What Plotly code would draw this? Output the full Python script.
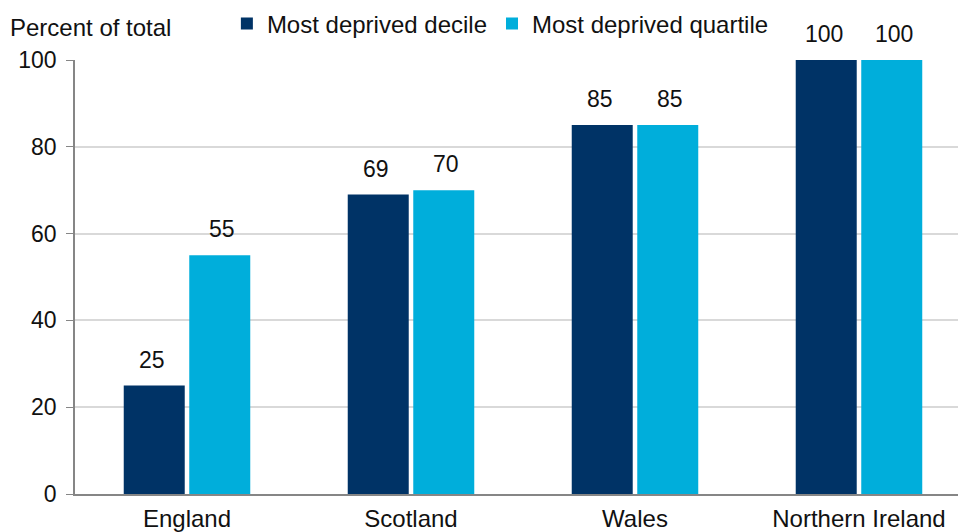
import plotly.graph_objects as go

# Share of areas falling in the most deprived group, by nation
nations = ["England", "Scotland", "Wales", "Northern Ireland"]
decile_pct = [25, 69, 85, 100]
quartile_pct = [55, 70, 85, 100]
series_names = ["Most deprived decile", "Most deprived quartile"]
y_ticks = [0, 20, 40, 60, 80, 100]

DARK = "#003366"
LIGHT = "#00AEDB"
FONT = "Liberation Sans, Arial, sans-serif"
FS_TEXT = 24
FS_NUM = 23

fig = go.Figure()
fig.add_trace(go.Bar(x=nations, y=decile_pct, name=series_names[0],
                     marker=dict(color=DARK, line=dict(width=0))))
fig.add_trace(go.Bar(x=nations, y=quartile_pct, name=series_names[1],
                     marker=dict(color=LIGHT, line=dict(width=0))))

# value labels above each bar
for vals, shift in ((decile_pct, -35), (quartile_pct, 35)):
    for cat, v in zip(nations, vals):
        fig.add_annotation(x=cat, y=v, text=str(v), showarrow=False,
                           xshift=shift, yshift=26, yanchor="middle",
                           font=dict(family=FONT, size=FS_NUM, color="#111111"))

# axis caption
fig.add_annotation(xref="paper", yref="paper", x=0, y=1, xanchor="left",
                   yanchor="middle", xshift=-67, yshift=33,
                   text="Percent of total", showarrow=False,
                   font=dict(family=FONT, size=FS_TEXT, color="#111111"))

fig.update_layout(
    width=958, height=532,
    margin=dict(l=75, r=0, t=60, b=38, autoexpand=False),
    paper_bgcolor="white", plot_bgcolor="white",
    barmode="group", bargap=0.415, bargroupgap=0.069,
    font=dict(family=FONT, size=FS_TEXT, color="#111111"),
    legend=dict(orientation="h", x=0.172, xanchor="left", y=1.083,
                yanchor="middle", font=dict(family=FONT, size=FS_TEXT),
                bgcolor="rgba(0,0,0,0)", itemwidth=30),
    xaxis=dict(range=[-0.5, 3.442], showline=True, linecolor="#868686",
               linewidth=1.5, ticks="", showgrid=False, fixedrange=True,
               ticklabelstandoff=2, automargin=False,
               tickfont=dict(family=FONT, size=FS_TEXT, color="#111111")),
    yaxis=dict(range=[0, 100], tickvals=y_ticks, showline=True,
               linecolor="#868686", linewidth=1.5, ticks="outside",
               ticklen=7, tickcolor="#868686", gridcolor="#D9D9D9",
               gridwidth=1.5, zeroline=False, ticklabelstandoff=5,
               automargin=False,
               tickfont=dict(family=FONT, size=FS_NUM, color="#111111")),
)

fig.write_html("out.html")
